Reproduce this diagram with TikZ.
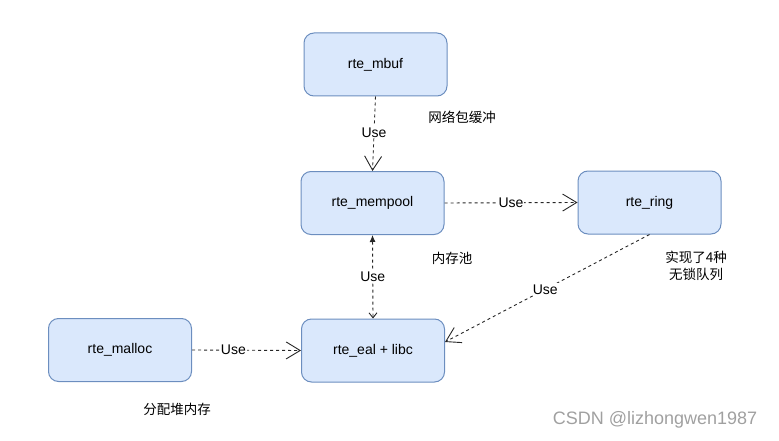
\documentclass[tikz,border=0pt]{standalone}
\usepackage{fontspec}
\setmainfont{Liberation Sans}
\newfontfamily\cjk{Noto Sans CJK SC}
\usetikzlibrary{arrows.meta,calc}
\definecolor{boxfill}{HTML}{DAE8FC}
\definecolor{boxline}{HTML}{6C8EBF}
\definecolor{wm}{RGB}{160,160,160}
\tikzset{
  box/.style={draw=boxline, fill=boxfill, line width=1pt, rounded corners=10pt,
    minimum width=143pt, minimum height=63pt, inner sep=0pt, font=\fontsize{14pt}{16pt}\selectfont},
  uses/.style={draw=black!85, line width=0.9pt, dash pattern=on 3pt off 3pt,
    -{Straight Barb[length=14pt,width=17pt,line width=0.9pt]}},
  lbl/.style={fill=white, inner sep=1pt, font=\fontsize{14pt}{16pt}\selectfont},
  note/.style={font=\cjk\fontsize{13.5pt}{17pt}\selectfont, align=center, inner sep=0pt}
}
\begin{document}
\begin{tikzpicture}[x=1pt,y=-1pt]
\useasboundingbox (0,0) rectangle (779,441);
\node[box] (mbuf) at (375.5,64.5) {rte\_mbuf};
\node[box] (mempool) at (372.5,203) {rte\_mempool};
\node[box] (ring) at (649.5,202.5) {rte\_ring};
\node[box] (malloc) at (120,350) {rte\_malloc};
\node[box] (eal) at (373,350.5) {rte\_eal + libc};

\draw[uses] (mbuf.south) -- node[lbl, pos=0.48] (u1) {Use} (mempool.north);
\draw[uses] (mempool.east) -- node[lbl, pos=0.5] (u2) {Use} (ring.west);
\draw[draw=black!85, line width=0.9pt, dash pattern=on 3pt off 3pt,
  {Latex[length=7pt,width=6pt]}-{Straight Barb[length=5pt,width=8pt,line width=0.9pt]}]
  (mempool.south) -- node[lbl, pos=0.5] (u3) {Use} (eal.north);
\draw[uses] (ring.south) -- node[lbl, pos=0.51] (u4) {Use} ($(eal.east)+(0,-8.5)$);
\draw[uses] (malloc.east) -- node[lbl, pos=0.38] (u5) {Use} (eal.west);

\node[note] (n1) at (462,117) {网络包缓冲};
\node[note] (n2) at (452,258) {内存池};
\node[note] (n3) at (696,266) {实现了4种\\无锁队列};
\node[note] (n4) at (177,409) {分配堆内存};
\node[text=wm, font=\fontsize{18pt}{20pt}\selectfont, inner sep=0pt] (wmk) at (655,420) {CSDN @lizhongwen1987};
\end{tikzpicture}
\end{document}
